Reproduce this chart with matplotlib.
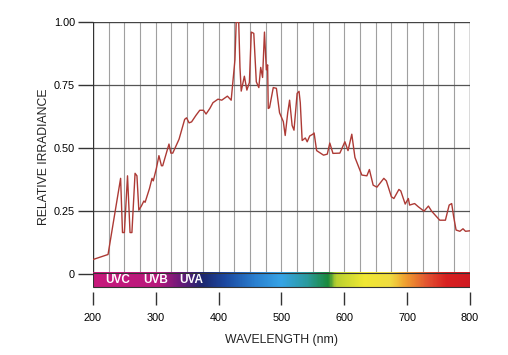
import matplotlib
matplotlib.use("Agg")
import matplotlib.pyplot as plt
import numpy as np
from matplotlib.colors import LinearSegmentedColormap

plt.rcParams['font.family'] = ['Liberation Sans', 'DejaVu Sans']

wavelength = [200, 224, 244, 247, 250, 255, 259, 262, 267, 270, 273, 277, 281, 283,
              290, 294, 296, 301, 305, 309, 311, 321, 324, 327, 337, 346, 349, 353,
              357, 364, 370, 376, 380, 386, 391, 399, 405, 414, 420, 423, 426, 428,
              432, 434, 436, 441, 445, 449, 452, 456, 460, 464, 467, 470, 473, 476,
              478, 479, 481, 487, 492, 497, 503, 506, 510, 513, 517, 520, 525, 528,
              530, 533, 538, 541, 545, 550, 552, 556, 567, 573, 577, 582, 593, 601,
              606, 612, 617, 628, 636, 640, 646, 652, 663, 667, 675, 679, 687, 690,
              697, 702, 704, 712, 718, 727, 734, 739, 752, 761, 767, 771, 774, 778,
              784, 789, 793, 800]
irradiance = [0.058, 0.078, 0.38, 0.165, 0.165, 0.39, 0.165, 0.165, 0.40, 0.39, 0.254,
              0.27, 0.29, 0.285, 0.34, 0.38, 0.37, 0.42, 0.47, 0.43, 0.43, 0.516, 0.48,
              0.48, 0.535, 0.614, 0.62, 0.60, 0.604, 0.63, 0.65, 0.65, 0.635, 0.657,
              0.68, 0.694, 0.69, 0.706, 0.69, 0.77, 0.85, 1.0, 1.0, 0.82, 0.726, 0.785,
              0.73, 0.76, 0.96, 0.955, 0.763, 0.74, 0.82, 0.78, 0.96, 0.81, 0.83, 0.657,
              0.66, 0.74, 0.737, 0.64, 0.605, 0.55, 0.64, 0.69, 0.59, 0.571, 0.717,
              0.725, 0.68, 0.53, 0.54, 0.525, 0.548, 0.555, 0.56, 0.49, 0.472, 0.476,
              0.52, 0.479, 0.48, 0.525, 0.49, 0.555, 0.463, 0.393, 0.39, 0.415, 0.353,
              0.345, 0.38, 0.37, 0.307, 0.30, 0.336, 0.33, 0.278, 0.30, 0.274, 0.28,
              0.267, 0.25, 0.27, 0.25, 0.214, 0.214, 0.274, 0.28, 0.23, 0.175, 0.17,
              0.18, 0.17, 0.172]

x_ticks = [200, 300, 400, 500, 600, 700, 800]
y_ticks = [0, 0.25, 0.5, 0.75, 1.0]
y_tick_labels = ["0", "0.25", "0.50", "0.75", "1.00"]
band_labels = ["UVC", "UVB", "UVA"]
band_centers = [240, 300, 357]

# spectrum bar colour stops (position along 200-800 nm)
bar_stops = [(0.0, "#c81a7c"), (0.17, "#b8187c"), (0.23, "#6c1a7a"), (0.29, "#1c2870"),
             (0.35, "#1c48a0"), (0.43, "#2a80d0"), (0.50, "#36a4e6"), (0.57, "#2a9a9c"),
             (0.625, "#1a8a3a"), (0.645, "#b8d030"), (0.72, "#f0e832"), (0.79, "#f0dc40"),
             (0.83, "#f0a030"), (0.89, "#e25030"), (0.94, "#d82020"), (1.0, "#d01a22")]

fig = plt.figure(figsize=(5.08, 3.55), dpi=100)
ax = fig.add_axes([0.183, 0.178, 0.742, 0.760])
ax.set_xlim(200, 800)
ax.set_ylim(-0.07, 1.0)

# grid
for xv in np.arange(225, 800, 25):
    ax.plot([xv, xv], [0, 1], color="#a0a0a0", lw=0.8, zorder=1)
for yv in [0.25, 0.5, 0.75]:
    ax.plot([200, 800], [yv, yv], color="#555555", lw=0.9, zorder=1)
ax.plot([200, 800], [1, 1], color="#444444", lw=1.0, zorder=1)
ax.plot([200, 200], [0, 1], color="#333333", lw=1.0, zorder=2)
ax.plot([800, 800], [0, 1], color="#444444", lw=1.0, zorder=2)

# spectrum bar
cmap = LinearSegmentedColormap.from_list("spec", bar_stops)
grad = np.linspace(0, 1, 600).reshape(1, -1)
ax.imshow(grad, cmap=cmap, aspect="auto", extent=(200, 800, -0.052, 0.004), zorder=3)
ax.add_patch(plt.Rectangle((200, -0.052), 600, 0.056, fill=False, ec="#333333", lw=0.8, zorder=4))
for lab, c in zip(band_labels, band_centers):
    ax.text(c, -0.024, lab, color="white", fontsize=8.5, fontweight="bold",
            ha="center", va="center", zorder=5)

# curve
ax.plot(wavelength, irradiance, color="#ad3a35", lw=1.0, zorder=6)

for s in ax.spines.values():
    s.set_visible(False)
ax.set_xticks(x_ticks)
ax.set_yticks(y_ticks)
ax.set_yticklabels(y_tick_labels)
ax.tick_params(axis="y", length=11, width=1.0, color="#333333", labelsize=7.8, pad=2)
ax.tick_params(axis="x", length=9.5, width=1.0, color="#333333", labelsize=7.8, pad=6)
ax.set_xlabel("WAVELENGTH (nm)", fontsize=8.8, labelpad=8, color="#222222")
ax.set_ylabel("RELATIVE IRRADIANCE", fontsize=8.8, labelpad=3, color="#222222")

fig.savefig("out.png", dpi=100)
